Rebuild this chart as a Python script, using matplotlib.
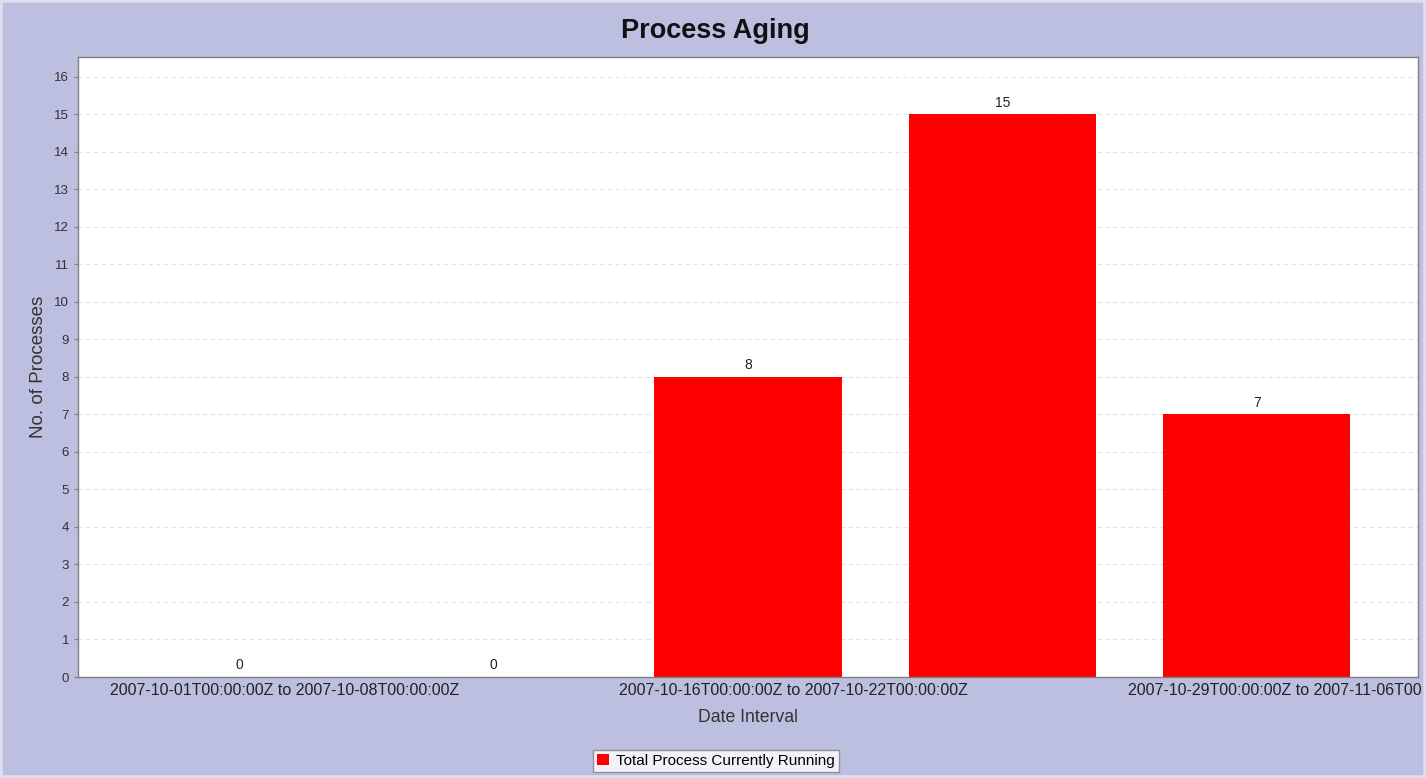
import matplotlib
matplotlib.use("Agg")
import matplotlib.pyplot as plt
import matplotlib.transforms as mtransforms
from matplotlib.patches import Patch, Rectangle

# data
intervals = [
    "2007-10-01T00:00:00Z to 2007-10-08T00:00:00Z",
    "2007-10-08T00:00:00Z to 2007-10-15T00:00:00Z",
    "2007-10-16T00:00:00Z to 2007-10-22T00:00:00Z",
    "2007-10-22T00:00:00Z to 2007-10-29T00:00:00Z",
    "2007-10-29T00:00:00Z to 2007-11-06T00:00:00Z",
]
running = [0, 0, 8, 15, 7]
shown_ticks = [0, 2, 4]  # the chart only labels every other interval
y_ticks = list(range(0, 17))

BG = "#bcbfdf"
plt.rcParams["font.family"] = ["Liberation Sans", "DejaVu Sans"]

fig = plt.figure(figsize=(14.26, 7.78), dpi=100, facecolor=BG)
fig.patches.append(Rectangle((0, 0), 1, 1, transform=fig.transFigure, fill=False,
                             edgecolor="#dedfee", linewidth=4, zorder=10))
ax = fig.add_axes([78 / 1426, 1 - 677 / 778, 1340 / 1426, 620 / 778])
ax.set_facecolor("white")

x = list(range(len(running)))
ax.bar(x, running, width=0.736, color="#ff0000", zorder=2)
for xi, v in zip(x, running):
    ax.annotate(str(v), (xi, v), xytext=(0, 3.5), textcoords="offset points",
                ha="center", va="bottom", fontsize=10, color="#222222")

ax.set_xlim(-0.634, 4.634)
ax.set_ylim(0, 16.53)
ax.set_yticks(y_ticks)
ax.tick_params(axis="y", labelsize=9.5, length=3, color="#808080", labelcolor="#333333")
ax.yaxis.grid(True, linestyle=(0, (4, 3)), color="#e2e2e2", linewidth=0.8, zorder=0)

ax.set_xticks(shown_ticks)
ax.set_xticklabels([intervals[i] for i in shown_ticks], fontsize=11.5, color="#222222")
ax.tick_params(axis="x", length=0, pad=4)
shift = mtransforms.ScaledTranslation(0.45, 0, fig.dpi_scale_trans)
for lbl in ax.get_xticklabels():
    lbl.set_transform(lbl.get_transform() + shift)

for s in ax.spines.values():
    s.set_color("#808080")
    s.set_linewidth(1.0)

ax.set_xlabel("Date Interval", fontsize=12.7, color="#333333", labelpad=8)
ax.set_ylabel("No. of Processes", fontsize=13.5, color="#333333", labelpad=5)
fig.text(0.502, 0.96, "Process Aging", ha="center", va="center",
         fontsize=19.5, fontweight="bold", color="#111111")

handle = Patch(facecolor="#ff0000", edgecolor="none", label="Total Process Currently Running")
leg = fig.legend(handles=[handle], loc="center", bbox_to_anchor=(0.502, 0.022),
                 fontsize=11, frameon=True, fancybox=False, handlelength=0.8,
                 handleheight=0.8, handletextpad=0.5, borderpad=0.25)
leg.get_frame().set_edgecolor("#808080")
leg.get_frame().set_facecolor("white")

fig.savefig("out.png", dpi=100, facecolor=BG)
